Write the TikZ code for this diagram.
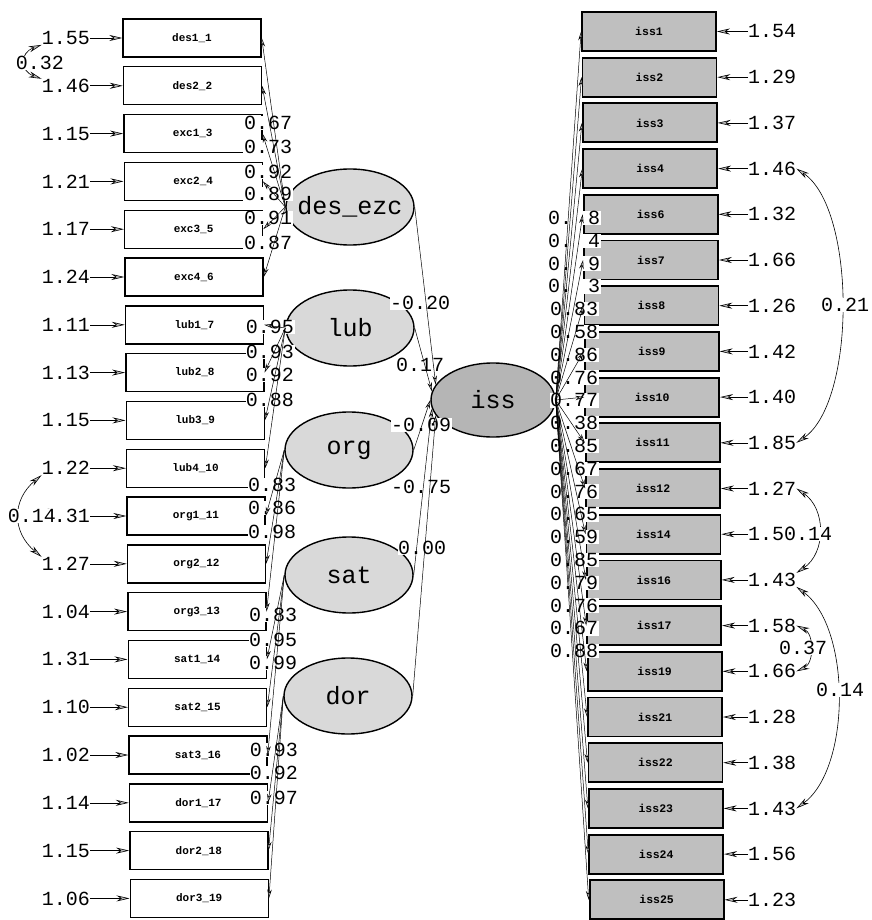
\documentclass[tikz,border=0pt]{standalone}
\usepackage{fontspec}
\usetikzlibrary{arrows.meta,calc,shapes.geometric}
\newfontfamily\monof{Liberation Mono}
\begin{document}
\begin{tikzpicture}[x=1pt,y=-1pt,
  lbox/.style={draw, line width=1.4pt, fill=white, minimum width=138pt, minimum height=38pt, inner sep=0pt, font=\monof\bfseries\fontsize{11}{11}\selectfont},
  rbox/.style={draw, line width=1.8pt, fill=gray!50, minimum width=134pt, minimum height=39pt, inner sep=0pt, font=\monof\bfseries\fontsize{11.5}{11.5}\selectfont},
  lat/.style={ellipse, draw, line width=1.4pt, fill=gray!30, minimum width=128pt, minimum height=76pt, inner sep=0pt, font=\monof\fontsize{25}{25}\selectfont},
  num/.style={inner sep=0pt, font=\monof\fontsize{20}{20}\selectfont},
  lab/.style={num, fill=white, inner sep=0.5pt},
  err/.style={-{Stealth[length=13pt,width=6pt,fill=gray!50]}, line width=0.6pt},
  load/.style={-{Stealth[length=9pt,width=4.5pt,fill=gray!50]}, line width=0.5pt},
  cov/.style={{Stealth[length=13pt,width=6pt,fill=gray!50]}-{Stealth[length=13pt,width=6pt,fill=gray!50]}, line width=0.6pt},
]
\useasboundingbox[fill=white] (0,0) rectangle (871,920);

% left indicators with error variances
\foreach \t/\e [count=\i from 0] in {des1\_1/1.55, des2\_2/1.46, exc1\_3/1.15, exc2\_4/1.21, exc3\_5/1.17, exc4\_6/1.24, lub1\_7/1.11, lub2\_8/1.13, lub3\_9/1.15, lub4\_10/1.22, org1\_11/1.31, org2\_12/1.27, org3\_13/1.04, sat1\_14/1.31, sat2\_15/1.10, sat3\_16/1.02, dor1\_17/1.14, dor2\_18/1.15, dor3\_19/1.06}{
  \pgfmathsetmacro\yy{38+47.8*\i}
  \pgfmathsetmacro\xx{192+0.4*\i}
  \node[lbox] (l\i) at (\xx,\yy) {\t};
  \node[num, anchor=east] (le\i) at (90,\yy) {\e};
  \draw[err] (le\i.east) -- (l\i.west);
}

% right indicators with error variances
\foreach \t/\e [count=\i from 0] in {iss1/1.54, iss2/1.29, iss3/1.37, iss4/1.46, iss6/1.32, iss7/1.66, iss8/1.26, iss9/1.42, iss10/1.40, iss11/1.85, iss12/1.27, iss14/1.50, iss16/1.43, iss17/1.58, iss19/1.66, iss21/1.28, iss22/1.38, iss23/1.43, iss24/1.56, iss25/1.23}{
  \pgfmathsetmacro\yy{31.5+45.7*\i}
  \pgfmathsetmacro\xx{649+0.4*\i}
  \node[rbox] (r\i) at (\xx,\yy) {\t};
  \node[num, anchor=west] (re\i) at (748,\yy) {\e};
  \draw[err] (re\i.west) -- (r\i.east);
}

% latent variables
\node[lat] (des) at (350,207) {\makebox[0pt]{des\_ezc}};
\node[lat] (lub) at (350,328) {\makebox[0pt]{lub}};
\node[lat] (org) at (349,450) {\makebox[0pt]{org}};
\node[lat] (sat) at (349,575) {\makebox[0pt]{sat}};
\node[lat] (dor) at (348,696) {\makebox[0pt]{dor}};
\node[lat, fill=gray!58, minimum width=124pt, minimum height=74pt] (iss) at (493,400) {\makebox[0pt]{iss}};

% left loading labels
\foreach \v/\x/\y [count=\j from 0] in {0.67/268/123, 0.73/268/147, 0.92/268/172, 0.89/268/194, 0.91/268/218, 0.87/268/243, 0.95/270/327, 0.93/270/352, 0.92/270/375, 0.88/270/400, 0.83/272/485, 0.86/272/508, 0.98/272/532, 0.83/273/615, 0.95/273/640, 0.99/273/663, 0.93/274/750, 0.92/274/773, 0.97/274/798}{
  \node[lab] (ll\j) at (\x,\y) {\v};
}

% right loading labels
\foreach \v [count=\k from 0] in {0. 8, 0. 4, 0. 9, 0. 3, 0.83, 0.58, 0.86, 0.76, 0.77, 0.38, 0.85, 0.67, 0.76, 0.65, 0.59, 0.85, 0.79, 0.76, 0.67, 0.88}{
  \pgfmathsetmacro\yy{218+22.8*\k}
  \node[lab] (rl\k) at (574,\yy) {\v};
}

% structural labels
\node[lab] (s1) at (420,303) {-0.20};
\node[lab] (s2) at (420,365) {0.17};
\node[lab] (s3) at (421,425) {-0.09};
\node[lab] (s4) at (421,487) {-0.75};
\node[lab] (s5) at (422,548) {0.00};

% loadings (left)
\foreach \i in {0,...,5} \draw[load] (des.west) -- (l\i.east);
\foreach \i in {6,...,9} \draw[load] (lub.west) -- (l\i.east);
\foreach \i in {10,...,12} \draw[load] (org.west) -- (l\i.east);
\foreach \i in {13,...,15} \draw[load] (sat.west) -- (l\i.east);
\foreach \i in {16,...,18} \draw[load] (dor.west) -- (l\i.east);

% loadings (right)
\foreach \i in {0,...,19} \draw[load] (iss.east) -- (r\i.west);

% structural paths
\draw[load] (des.east) -- (iss.165);
\draw[load] (lub.east) -- (iss.172);
\draw[load] (org.east) -- (iss.180);
\draw[load] (sat.east) -- (iss.188);
\draw[load] (dor.east) -- (iss.195);

% error covariances
\draw[cov] (le0.south west) .. controls +(-22,8) and +(-22,-8) .. (le1.north west);
\draw[cov] (le9.south west) .. controls +(-30,25) and +(-30,-25) .. (le11.north west);
\draw[cov] (re3.east) .. controls +(60,40) and +(60,-40) .. (re9.east);
\draw[cov] (re10.east) .. controls +(30,20) and +(30,-20) .. (re12.north east);
\draw[cov] (re13.east) .. controls +(18,8) and +(18,-8) .. (re14.east);
\draw[cov] (re12.south east) .. controls +(55,40) and +(55,-40) .. (re17.east);

\node[lab] (c1) at (40,63) {0.32};
\node[lab] (c2) at (32,516) {0.14};
\node[lab] (c3) at (845,305) {0.21};
\node[lab, anchor=west] (c4) at (783.5,534.2) {0.14};
\node[lab] (c5) at (803,648) {0.37};
\node[lab] (c6) at (840,690) {0.14};
\end{tikzpicture}
\end{document}
